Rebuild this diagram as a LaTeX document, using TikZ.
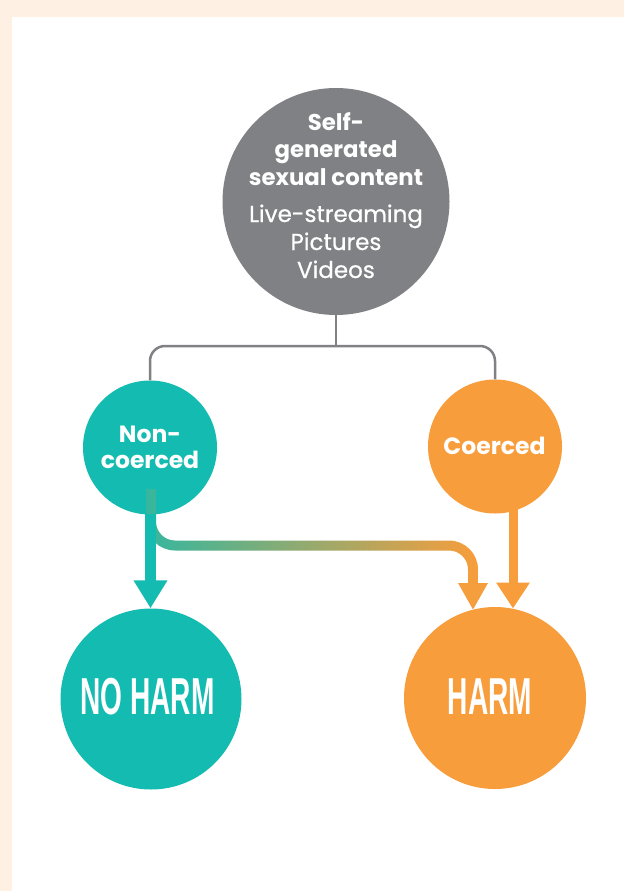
\documentclass[tikz,border=0pt]{standalone}
\usepackage{fontspec}
\usepackage{graphicx}
\setmainfont{Poppins}
\newfontfamily\medfont{Poppins}[FakeBold=0.7]
\newfontfamily\harmfont{Liberation Sans}
\usetikzlibrary{arrows.meta,calc}
\definecolor{peach}{HTML}{FEF1E4}
\definecolor{tealc}{HTML}{14BBB0}
\definecolor{orangec}{HTML}{F89D3B}
\definecolor{grayc}{HTML}{808184}
\tikzset{
  bubble/.style={circle, inner sep=0pt, draw=none},
  toptxt/.style={anchor=base, text=white, inner sep=0pt, font=\medfont\fontsize{23}{23}\selectfont},
  toptxtb/.style={anchor=base, text=white, inner sep=0pt, font=\fontsize{22.8}{23}\selectfont\bfseries},
  midtxt/.style={anchor=base, text=white, inner sep=0pt, font=\fontsize{23.5}{24}\selectfont\bfseries},
  bigtxt/.style={anchor=base, text=white, inner sep=0pt, font=\harmfont\bfseries\fontsize{52}{52}\selectfont},
  conn/.style={draw=grayc, line width=2.5pt, rounded corners=15pt},
  tealarrow/.style={draw=tealc, line width=11pt, -{Triangle[width=32pt,length=28pt]}},
  orangearrow/.style={draw=orangec, line width=9pt, -{Triangle[width=32pt,length=26pt]}},
}
\begin{document}
\begin{tikzpicture}[x=1pt,y=-1pt]
\useasboundingbox (0,0) rectangle (624,891);
\fill[peach] (0,0) rectangle (624,891);
\fill[white] (12,17) rectangle (624,891);

% circles
\node[bubble, fill=grayc, minimum size=227pt] (src) at (336,201.5) {};
\node[bubble, fill=tealc, minimum size=134pt] (nc) at (150,447.5) {};
\node[bubble, fill=orangec, minimum size=134pt] (co) at (495,446.5) {};
\node[bubble, fill=tealc, minimum size=181pt] (noharm) at (151,699) {};
\node[bubble, fill=orangec, minimum size=182pt] (harm) at (495,698) {};

% gray connector
\coordinate (hub) at (336,346);
\draw[conn] (src.south) -- (hub);
\draw[conn] (nc.north) |- (hub) -| (co.north);

% gradient connector (outline shaded)
\shade[left color=tealc!85!orangec, right color=orangec]
  (146,489) -- (146,521.5) arc[start angle=180, end angle=270, radius=29pt]
  -- (449,550.5) arc[start angle=90, end angle=0, radius=19pt]
  -- (468,584) -- (478,584) -- (478,569.5) arc[start angle=0, end angle=90, radius=29pt]
  -- (175,540.5) arc[start angle=270, end angle=180, radius=19pt]
  -- (156,489) -- cycle;
\coordinate (gtipbase) at (473,583);
\fill[orangec!98!tealc] ($(gtipbase)+(-15,0)$) -- ($(gtipbase)+(15,0)$) -- ($(gtipbase)+(0,26.5)$) -- cycle;

% teal arrow
\coordinate (ts) at ($(nc.south)+(0.5,-1)$);
\coordinate (te) at ($(noharm.north)+(-0.5,0)$);
\draw[tealarrow] (ts) -- (te);

% orange arrow
\coordinate (os) at ($(co.center)+(18,55)$);
\coordinate (oe) at ($(harm.center)+(18,-89.5)$);
\draw[orangearrow] (os) -- (oe);

% texts
\node[toptxtb] (t1) at (336,130) {Self-};
\node[toptxtb] (t2) at (336,157.5) {generated};
\node[toptxtb] (t3) at (336,185) {sexual content};
\node[toptxt] (t4) at (336,222) {Live-streaming};
\node[toptxt] (t5) at (336,250) {Pictures};
\node[toptxt] (t6) at (336,278) {Videos};

\node[midtxt] (n1) at (150,442) {Non-};
\node[midtxt] (n2) at (150,468) {coerced};
\node[midtxt] (c1) at (494.5,454) {Coerced};

\node[bigtxt] (h1) at (147.5,714) {\scalebox{0.54}[1]{NO HARM}};
\node[bigtxt] (h2) at (490,714) {\scalebox{0.54}[1]{HARM}};
\end{tikzpicture}
\end{document}
